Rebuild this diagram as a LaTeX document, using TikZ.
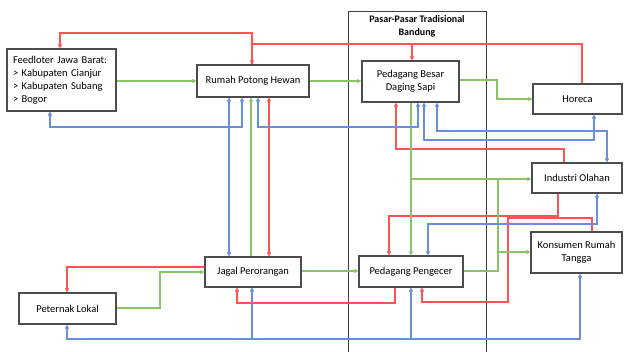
\documentclass[tikz,border=0pt]{standalone}
\usepackage{fontspec}
\setmainfont{Carlito}
\usetikzlibrary{arrows.meta}
\definecolor{cred}{HTML}{FF5252}
\definecolor{cgreen}{HTML}{8CC268}
\definecolor{cblue}{HTML}{6690DA}
\begin{document}
\begin{tikzpicture}[x=1pt,y=-1pt, font=\fontsize{10.5}{13}\selectfont,
 box/.style={draw=black!70, line width=1.1pt, fill=white, align=center, inner sep=2pt, anchor=center},
 rd/.style={draw=cred, line width=1.2pt},
 gr/.style={draw=cgreen, line width=1.2pt},
 bl/.style={draw=cblue, line width=1.2pt},
 >={Triangle[length=4pt,width=4pt]}]
\useasboundingbox[fill=white] (0,0) rectangle (624,352);
% market container
\draw[black!75, line width=0.9pt] (348,352) -- (348,11) -- (486,11) -- (486,352);
\node[font=\fontsize{10}{13}\selectfont\bfseries, align=center] (title) at (417,26.5) {Pasar-Pasar Tradisional\\Bandung};
% boxes
\node[box, minimum width=109pt, minimum height=62pt, align=left, text width=97pt] (feed) at (61.5,80) {Feedloter Jawa Barat:\\> Kabupaten Cianjur\\> Kabupaten Subang\\> Bogor};
\node[box, minimum width=112pt, minimum height=32pt] (rph) at (253,81) {Rumah Potong Hewan};
\node[box, minimum width=97pt, minimum height=41pt] (pbds) at (410.5,81.5) {Pedagang Besar\\Daging Sapi};
\node[box, minimum width=89pt, minimum height=30pt] (horeca) at (577.5,99) {Horeca};
\node[box, minimum width=90pt, minimum height=30pt] (ind) at (577,178) {Industri Olahan};
\node[box, minimum width=91pt, minimum height=41pt] (kons) at (576.5,252.5) {Konsumen Rumah\\Tangga};
\node[box, minimum width=104pt, minimum height=31pt] (peng) at (411,271.5) {Pedagang Pengecer};
\node[box, minimum width=96pt, minimum height=30pt] (jagal) at (253,272) {Jagal Perorangan};
\node[box, minimum width=97pt, minimum height=31pt] (pet) at (67.5,308.5) {Peternak Lokal};
% junctions
\coordinate (rj) at (412,44);
\coordinate (gj) at (411,179);
\coordinate (bj1) at (252,339);
\coordinate (bj2) at (411,339);
% red
\draw[rd,->] (horeca.north -| 582,0) |- (252,44) -- (rph.north -| 252,0);
\draw[rd,->] (rj) -- (pbds.north -| rj);
\draw[rd,->] (rph.north -| 252,0) -- (252,33) -| (feed.north -| 60,0);
\draw[rd,<->] (rph.south -| 269,0) -- (jagal.north -| 269,0);
\draw[rd,->] (ind.north -| 564,0) |- (396,149) -- (pbds.south -| 396,0);
\draw[rd,->] (ind.south -| 558,0) |- (389,216) -- (peng.north -| 389,0);
\draw[rd,->] (kons.north -| 592,0) |- (508,218) |- (422,302) -- (peng.south -| 422,0);
\draw[rd,->] (peng.south -| 395,0) |- (237,303) -- (jagal.south -| 237,0);
\draw[rd,->] (jagal.west |- 0,267) -| (pet.north -| 67,0);
% green
\draw[gr,->] (feed.east |- 0,81) -- (rph.west |- 0,81);
\draw[gr,->] (rph.east |- 0,81) -- (pbds.west |- 0,81);
\draw[gr,->] (pbds.east |- 0,80) -| (497,99) -- (horeca.west |- 0,99);
\draw[gr,->] (pbds.south -| 411,0) -- (peng.north -| 411,0);
\draw[gr,->] (gj) -- (ind.west |- gj);
\draw[gr,->] (peng.east |- 0,271) -| (498,252) -- (kons.west |- 0,252);
\draw[gr] (498,252) -- (498,179);
\draw[gr,->] (jagal.north -| 251,0) -- (rph.south -| 251,0);
\draw[gr,->] (pet.east |- 0,308) -| (160,272) -- (jagal.west |- 0,272);
\draw[gr,->] (jagal.east |- 0,271) -- (peng.west |- 0,271);
% blue
\draw[bl,<->] (feed.south -| 50,0) |- (242,127) -- (rph.south -| 242,0);
\draw[bl,<->] (rph.south -| 229,0) -- (jagal.north -| 229,0);
\draw[bl,<->] (rph.south -| 258,0) |- (418,127) -- (pbds.south -| 418,0);
\draw[bl,<->] (pbds.south -| 424,0) |- (594,140) -- (horeca.south -| 594,0);
\draw[bl,<->] (pbds.south -| 437,0) |- (607,131) -- (ind.north -| 607,0);
\draw[bl,<->] (ind.south -| 597,0) |- (428,224) -- (peng.north -| 428,0);
\draw[bl,<->] (pet.south -| 67,0) |- (580,339) -- (kons.south -| 580,0);
\draw[bl,->] (bj1) -- (jagal.south -| bj1);
\draw[bl,->] (bj2) -- (peng.south -| bj2);
\end{tikzpicture}
\end{document}
